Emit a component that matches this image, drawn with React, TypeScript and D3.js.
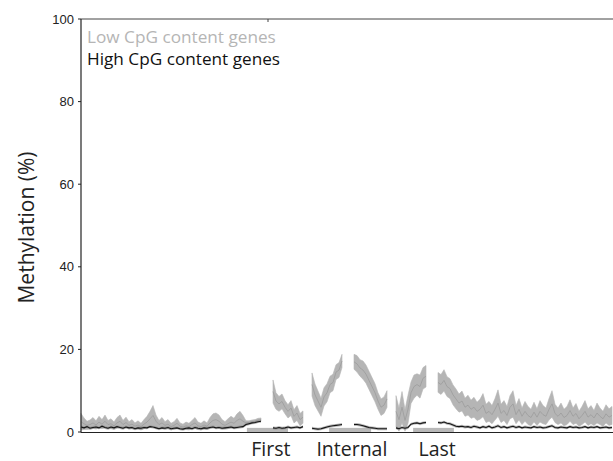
import React from "react";
import * as d3 from "d3";

// Methylation profile across gene features, binned along the gene model.
// Each segment: start bin, then per-bin values.
const yTicks = [0, 20, 40, 60, 80, 100];
const featureLabels = ["First", "Internal", "Last"];
const featureLabelBins = [63.3, 90.3, 118.7];

// exon boxes drawn on the baseline [startBin, endBin]
const exonStarts = [55.3, 82.7, 110.7];
const exonEnds = [69, 96.7, 124.3];

const segmentStarts = [0, 64, 77, 91, 105, 119];

const lowMean = [
  // upstream
  [2.5, 2.0, 1.6, 1.8, 2.2, 1.7, 2.4, 1.9, 2.6, 1.8, 2.0, 1.5, 2.2, 2.6, 1.8, 2.3, 1.6, 1.9, 1.4, 1.7,
   1.3, 1.9, 2.4, 3.2, 4.0, 2.6, 1.8, 2.2, 1.6, 1.9, 1.3, 1.6, 2.1, 1.4, 1.2, 1.5, 1.3, 1.8, 2.2, 1.5,
   1.3, 1.7, 1.4, 2.2, 2.8, 3.0, 2.6, 1.9, 1.6, 2.0, 2.4, 2.1, 2.8, 3.2, 2.6, 2.2, 2.3, 2.5, 2.6, 2.9, 3.0],
  // first exon downstream
  [9.8, 7.5, 6.8, 7.4, 6.0, 5.0, 5.8, 3.8, 4.6, 3.0, 3.6],
  // internal exon, upstream side
  [11.5, 9.0, 7.5, 6.0, 8.5, 9.5, 11.5, 12.0, 14.5, 15.0, 17.2],
  // internal exon, downstream side
  [17.0, 16.5, 15.5, 15.0, 14.0, 12.5, 11.0, 9.5, 7.5, 6.0, 6.5, 8.0],
  // last exon, upstream side
  [5.0, 3.0, 6.0, 2.8, 5.5, 9.5, 11.0, 11.5, 11.0, 13.0, 13.5],
  // downstream
  [12.0, 11.5, 12.5, 11.0, 10.5, 9.0, 8.0, 7.0, 7.5, 6.0, 6.5, 5.5, 6.0, 5.0, 5.5, 6.5, 4.5, 5.0, 4.2, 5.5,
   7.0, 4.5, 5.2, 4.0, 6.0, 6.8, 4.2, 5.5, 3.8, 5.0, 4.0, 3.5, 4.8, 3.6, 5.0, 4.2, 3.8, 5.5, 6.8, 4.5,
   3.8, 4.6, 3.5, 4.0, 5.2, 3.8, 4.5, 3.2, 4.0, 5.0, 3.6, 4.2, 3.4, 4.6, 3.8, 3.2, 4.4, 3.6, 4.0],
];

const lowSE = [
  [2.0, 1.4, 1.0, 1.1, 1.3, 1.0, 1.4, 1.1, 1.5, 1.0, 1.2, 0.9, 1.3, 1.5, 1.0, 1.3, 0.9, 1.1, 0.8, 1.0,
   0.8, 1.1, 1.4, 1.8, 2.4, 1.5, 1.0, 1.3, 0.9, 1.1, 0.8, 0.9, 1.2, 0.8, 0.7, 0.9, 0.8, 1.0, 1.3, 0.9,
   0.8, 1.0, 0.8, 1.3, 1.6, 1.6, 1.5, 1.1, 0.9, 1.2, 1.4, 1.2, 1.6, 1.8, 1.4, 0.5, 0.4, 0.4, 0.4, 0.4, 0.4],
  [2.8, 2.0, 1.8, 1.8, 1.6, 1.6, 1.8, 1.6, 1.8, 1.5, 1.5],
  [2.8, 2.6, 2.4, 2.2, 2.2, 2.2, 2.0, 2.0, 1.8, 1.8, 1.6],
  [1.8, 2.0, 2.0, 2.2, 2.2, 2.2, 2.2, 2.2, 2.0, 2.0, 2.0, 2.0],
  [3.8, 2.8, 3.8, 2.6, 3.4, 2.6, 2.8, 2.6, 2.8, 2.6, 2.6],
  [2.4, 2.4, 2.6, 2.4, 2.4, 2.4, 2.4, 2.2, 2.4, 2.2, 2.4, 2.2, 2.4, 2.2, 2.4, 2.8, 2.2, 2.4, 2.2, 2.6,
   3.2, 2.2, 2.4, 2.2, 2.8, 3.2, 2.2, 2.6, 2.0, 2.4, 2.2, 2.0, 2.4, 2.0, 2.6, 2.2, 2.0, 2.6, 3.2, 2.2,
   2.0, 2.4, 2.0, 2.2, 2.6, 2.0, 2.4, 1.8, 2.2, 2.6, 2.0, 2.2, 1.8, 2.4, 2.0, 1.8, 2.2, 2.0, 2.2],
];

const highMean = [
  [1.2, 1.0, 1.3, 0.9, 1.1, 1.2, 1.0, 1.4, 1.1, 0.9, 1.2, 1.0, 1.3, 1.1, 0.9, 1.2, 1.0, 1.1, 0.8, 1.0,
   0.9, 1.1, 1.0, 1.3, 1.2, 1.0, 0.8, 1.0, 0.9, 1.1, 0.8, 0.9, 1.0, 0.8, 0.7, 0.9, 1.0, 0.8, 1.1, 0.9,
   0.8, 1.0, 0.9, 1.1, 1.2, 1.0, 1.1, 0.9, 1.0, 1.1, 1.2, 1.0, 1.1, 1.2, 1.3, 1.8, 2.0, 2.2, 2.3, 2.5, 2.6],
  [1.0, 0.9, 1.1, 0.9, 1.0, 1.2, 1.0, 1.1, 1.2, 1.0, 1.3],
  [0.9, 0.8, 0.7, 0.8, 1.0, 1.2, 1.4, 1.5, 1.6, 1.7, 1.8],
  [1.8, 1.8, 1.7, 1.5, 1.3, 1.1, 1.0, 0.9, 0.8, 0.8, 0.8, 0.8],
  [1.0, 0.8, 1.1, 0.9, 1.1, 1.9, 2.1, 2.2, 2.0, 2.2, 2.3],
  [2.3, 2.2, 2.4, 2.1, 2.0, 1.7, 1.4, 1.3, 1.4, 1.2, 1.3, 1.1, 1.4, 1.2, 1.0, 1.3, 1.1, 1.4, 1.0, 1.2,
   1.5, 1.1, 1.3, 1.0, 1.2, 1.4, 1.1, 1.3, 1.0, 1.2, 1.1, 1.0, 1.3, 1.1, 1.2, 1.0, 1.1, 1.3, 1.5, 1.1,
   1.0, 1.2, 1.1, 1.0, 1.3, 1.1, 1.2, 1.0, 1.1, 1.3, 1.0, 1.2, 1.1, 1.3, 1.0, 1.1, 1.2, 1.0, 1.1],
];

const W = 613;
const H = 461;
const left = 81;
const right = 612;
const top = 19;
const bottom = 432;

export default function App() {
  const x = d3.scaleLinear().domain([0, 177]).range([left, right]);
  const y = d3.scaleLinear().domain([0, 100]).range([bottom, top]);

  const segs = segmentStarts.map((s, k) =>
    lowMean[k].map((m, i) => ({
      b: s + i,
      m,
      se: lowSE[k][i],
      h: highMean[k][i],
    }))
  );

  type P = { b: number; m: number; se: number; h: number };
  const band = d3
    .area<P>()
    .x((d) => x(d.b))
    .y0((d) => y(Math.max(0, d.m - d.se)))
    .y1((d) => y(d.m + d.se));
  const meanLine = d3
    .line<P>()
    .x((d) => x(d.b))
    .y((d) => y(d.m));
  const highBand = d3
    .area<P>()
    .x((d) => x(d.b))
    .y0((d) => y(Math.max(0, d.h - 0.35)))
    .y1((d) => y(d.h + 0.35));
  const highLine = d3
    .line<P>()
    .x((d) => x(d.b))
    .y((d) => y(d.h));

  const sans = "'Open Sans', sans-serif";
  const tickFont = "'Liberation Sans', Arial, sans-serif";

  return (
    <svg
      width={W}
      height={H}
      style={{ position: "absolute", left: 0, top: 0, background: "#fff" }}
    >
      {/* exon boxes */}
      {exonStarts.map((s, i) => (
        <rect
          key={"ex" + i}
          x={x(s)}
          y={y(1)}
          width={x(exonEnds[i]) - x(s)}
          height={y(0) - y(1)}
          fill="#b8b8b8"
        />
      ))}

      {/* low CpG genes: mean with error band */}
      {segs.map((d, k) => (
        <g key={"low" + k}>
          <path d={band(d) || ""} fill="#b5b5b5" stroke="#b5b5b5" strokeWidth={0.6} />
          <path d={meanLine(d) || ""} fill="none" stroke="#9c9c9c" strokeWidth={0.8} />
        </g>
      ))}

      {/* high CpG genes */}
      {segs.map((d, k) => (
        <g key={"high" + k}>
          <path d={highBand(d) || ""} fill="#8a8a8a" opacity={0.6} />
          <path d={highLine(d) || ""} fill="none" stroke="#141414" strokeWidth={1.1} />
        </g>
      ))}

      {/* axes frame */}
      <line x1={left} x2={right + 1} y1={top} y2={top} stroke="#444" strokeWidth={1} />
      <line x1={268} x2={268} y1={top} y2={top + 3} stroke="#444" strokeWidth={1} />
      <line x1={left} x2={left} y1={top} y2={bottom + 0.5} stroke="#222" strokeWidth={1.2} />
      <line x1={left} x2={right + 1} y1={bottom + 0.5} y2={bottom + 0.5} stroke="#222" strokeWidth={1.2} />

      {yTicks.map((t) => (
        <g key={"yt" + t}>
          <line x1={left - 3} x2={left} y1={y(t)} y2={y(t)} stroke="#222" />
          <text
            x={left - 7}
            y={y(t)}
            dy="0.36em"
            textAnchor="end"
            fontFamily={tickFont}
            fontSize={13}
            fill="#222"
          >
            {t}
          </text>
        </g>
      ))}

      <text
        transform={`translate(34,${(top + bottom) / 2 + 2}) rotate(-90)`}
        textAnchor="middle"
        fontFamily={sans}
        fontSize={21}
        fill="#222"
      >
        Methylation (%)
      </text>

      {featureLabels.map((l, i) => (
        <text
          key={l}
          x={x(featureLabelBins[i])}
          y={455.5}
          textAnchor="middle"
          fontFamily={sans}
          fontSize={19.5}
          fill="#222"
        >
          {l}
        </text>
      ))}

      <text x={87} y={43} fontFamily={sans} fontSize={17.2} fill="#b5b5b5">
        Low CpG content genes
      </text>
      <text x={87} y={65} fontFamily={sans} fontSize={17.2} fill="#111">
        High CpG content genes
      </text>
    </svg>
  );
}
